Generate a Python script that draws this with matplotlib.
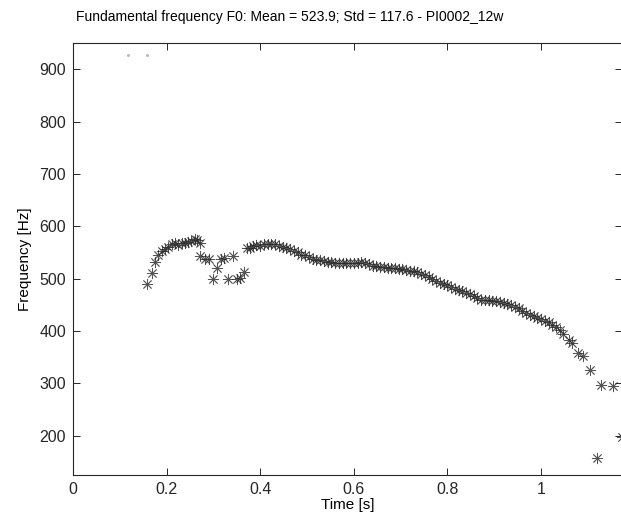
import matplotlib
matplotlib.use("Agg")
import matplotlib.pyplot as plt

plt.rcParams["font.family"] = ["Liberation Sans", "DejaVu Sans"]

# ---- F0 values (time in s, F0 in Hz) ----
temps = [
    0.159, 0.168, 0.175, 0.182, 0.190, 0.197, 0.204, 0.211, 0.218, 0.225,
    0.232, 0.239, 0.246, 0.253, 0.260, 0.266, 0.272, 0.271, 0.283, 0.290,
    0.300, 0.308, 0.316, 0.322, 0.332, 0.341, 0.350, 0.356, 0.365, 0.371,
    0.378, 0.385, 0.392,
    0.400, 0.408, 0.416, 0.424, 0.432, 0.440, 0.448, 0.456, 0.464, 0.472,
    0.480, 0.488, 0.496, 0.504, 0.512, 0.520, 0.528, 0.536, 0.544, 0.552,
    0.560, 0.568, 0.576, 0.584, 0.592, 0.600, 0.608, 0.616, 0.624, 0.632,
    0.640, 0.648, 0.656, 0.664, 0.672, 0.680, 0.688, 0.696, 0.704, 0.712,
    0.720, 0.728, 0.736, 0.744, 0.752, 0.760, 0.768, 0.776, 0.784, 0.792,
    0.800, 0.808, 0.816, 0.824, 0.832, 0.840, 0.848, 0.856, 0.864, 0.872,
    0.880, 0.888, 0.896, 0.904, 0.912, 0.920, 0.928, 0.936, 0.944, 0.952,
    0.960, 0.968, 0.976, 0.984, 0.992, 1.000, 1.008, 1.016, 1.024, 1.032,
    1.040, 1.048, 1.060, 1.066, 1.080, 1.090, 1.105, 1.128, 1.154, 1.120,
    1.172,
]
f0 = [
    490, 511, 531, 546, 552, 556, 560, 566, 568, 565,
    569, 568, 570, 572, 575, 574, 569, 544, 538, 537,
    500, 520, 537, 539, 500, 544, 500, 501, 513, 558,
    559, 562, 564,
    563, 566, 567, 566, 566, 563, 561, 559, 556, 553,
    550, 545, 545, 542, 538, 536, 535, 533, 532, 531,
    530, 530, 529, 530, 529, 530, 529, 531, 530, 527,
    524, 524, 523, 522, 521, 520, 520, 519, 518, 516,
    515, 514, 512, 508, 506, 503, 500, 496, 492, 490,
    487, 484, 481, 479, 476, 473, 470, 467, 463, 460,
    459, 459, 458, 457, 456, 454, 452, 449, 446, 443,
    439, 435, 431, 428, 425, 422, 420, 417, 412, 407,
    402, 395, 382, 378, 358, 352, 325, 296, 295, 158,
    197,
]

# faint points near the top of the axes
temps_pale = [0.117, 0.158]
f0_pale = [927, 927]

ticks_x = [0, 0.2, 0.4, 0.6, 0.8, 1.0]
labels_x = ["0", "0.2", "0.4", "0.6", "0.8", "1"]
ticks_y = [200, 300, 400, 500, 600, 700, 800, 900]

fig = plt.figure(figsize=(6.21, 5.18), dpi=100)
ax = fig.add_axes([73 / 621, 1 - 475 / 518, (622 - 73) / 621, (475 - 43) / 518])

ax.plot(temps, f0, linestyle="none", marker=(8, 2, 0), markersize=8,
        markeredgewidth=0.6, color="#2a2a2a", alpha=0.8)
ax.plot(temps_pale, f0_pale, linestyle="none", marker="o", markersize=1.2,
        color="#bbbbbb")

ax.set_xlim(0, 1.173)
ax.set_ylim(125, 950)
ax.set_xticks(ticks_x)
ax.set_xticklabels(labels_x)
ax.set_yticks(ticks_y)

ax.tick_params(direction="in", length=5, width=0.7, colors="#262626",
               labelsize=11.5, top=True, right=True, pad=5)
for sp in ax.spines.values():
    sp.set_color("#262626")
    sp.set_linewidth(0.8)

ax.set_xlabel("Time [s]", fontsize=11, labelpad=1)
ax.set_ylabel("Frequency [Hz]", fontsize=11, labelpad=5)

fig.text(290 / 621, 1 - 17 / 518,
         "Fundamental frequency F0: Mean = 523.9; Std = 117.6 - PI0002_12w",
         ha="center", va="center", fontsize=10)

fig.savefig("out.png", dpi=100)
